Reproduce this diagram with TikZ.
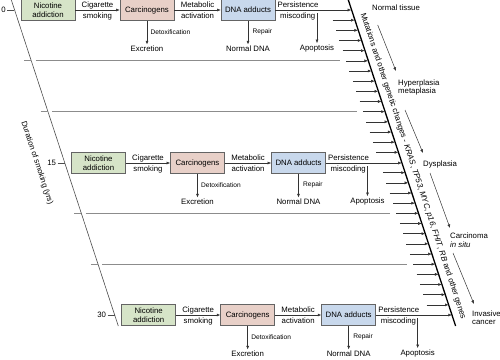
\documentclass[tikz,border=0pt]{standalone}
\usepackage{fontspec}
\setmainfont{Liberation Sans}
\usetikzlibrary{arrows.meta}
\definecolor{boxgreen}{RGB}{214,228,200}
\definecolor{boxpink}{RGB}{232,208,200}
\definecolor{boxblue}{RGB}{200,216,236}
\definecolor{boxline}{RGB}{100,100,100}
\begin{document}
\begin{tikzpicture}[x=1pt,y=-1pt,
  font=\fontsize{7.8}{9}\selectfont,
  box/.style={draw=boxline, line width=0.6pt, minimum width=54pt, minimum height=21pt, inner sep=0pt, align=center},
  arr/.style={-{Latex[length=3.6pt,width=3pt]}, line width=0.5pt, draw=black!80},
  smalltxt/.style={font=\fontsize{6.6}{7.5}\selectfont, inner sep=0pt},
  lbl/.style={inner sep=0pt},
  grayline/.style={draw=black!45, line width=0.7pt},
  axisline/.style={draw=black!70, line width=0.6pt},
  genline/.style={draw=black, line width=1.3pt},
]
\useasboundingbox (0,0) rectangle (500,359);

% slanted axis lines
\coordinate (L0) at (11,-1);
\coordinate (L1) at (118.3,326);
\draw[axisline] (L0) -- (L1);
\coordinate (R0) at (348,-1);
\coordinate (R1) at (455.6,326);
\draw[genline] (R0) -- (R1);

% duration label
\node[lbl, rotate=-71.74] (dur) at (37,163) {Duration of smoking (yrs)};

% gene label
\node[lbl, rotate=-71.74, font=\fontsize{8}{9}\selectfont] (genes) at (413,166) {Mutations and other genetic changes - \textit{KRAS}, \textit{TP53}, \textit{MYC}, \textit{p16}, \textit{FHIT}, \textit{RB} and other genes};

% ticks
\foreach \t/\y in {0/10, 15/163, 30/315}{
  \pgfmathsetmacro\xs{11+0.329*\y}
  \coordinate (tk\t a) at ({\xs-7},\y);
  \coordinate (tk\t b) at (\xs,\y);
  \draw[axisline] (tk\t a) -- (tk\t b);
  \node[lbl, anchor=east] (tl\t) at ({\xs-8.5},\y) {\t};
}

% short arrows into the gene line
\foreach \i in {1,...,29}{
  \ifnum\i=15\relax\else
    \pgfmathsetmacro\yy{10+\i*305/30}
    \pgfmathsetmacro\xl{348+0.33*\yy}
    \coordinate (s\i) at ({\xl-22},\yy);
    \coordinate (t\i) at (\xl,\yy);
    \draw[arr] (s\i) -- (t\i);
  \fi
}

% long gray separators
\foreach \i in {5,10,20,25}{
  \pgfmathsetmacro\yy{10+\i*305/30}
  \pgfmathsetmacro\xl{348+0.33*\yy}
  \pgfmathsetmacro\xs{11+0.329*\yy}
  \coordinate (ga\i) at ({\xs-7},\yy);
  \coordinate (gb\i) at (\xs,\yy);
  \coordinate (gc\i) at ({\xs+4.5},\yy);
  \coordinate (gd\i) at ({\xl-28},\yy);
  \draw[grayline] (ga\i) -- (gb\i);
  \draw[grayline] (gc\i) -- (gd\i);
}

% the three rows
\foreach \r/\y in {1/10, 2/163, 3/315}{
  \pgfmathsetmacro\dx{0.33*(\y-10)}
  \node[box, fill=boxgreen] (nic\r) at ({48+\dx},\y) {Nicotine\\addiction};
  \node[box, fill=boxpink] (carc\r) at ({147+\dx},\y) {Carcinogens};
  \node[box, fill=boxblue] (dna\r) at ({248+\dx},\y) {DNA adducts};
  \coordinate (end\r) at ({348+0.33*\y},\y);
  \draw[arr] (nic\r.east) -- (carc\r.west);
  \draw[arr] (carc\r.east) -- (dna\r.west);
  \draw[arr] (dna\r.east) -- (end\r);
  \node[lbl, anchor=base] (cig\r) at ({97.5+\dx},{\y-2.5}) {Cigarette};
  \node[lbl, anchor=base] (smk\r) at ({97.5+\dx},{\y+8.3}) {smoking};
  \node[lbl, anchor=base] (met\r) at ({197.5+\dx},{\y-2.5}) {Metabolic};
  \node[lbl, anchor=base] (act\r) at ({197.5+\dx},{\y+8.3}) {activation};
  \node[lbl, anchor=base west] (per\r) at ({277.5+\dx},{\y-2.5}) {Persistence};
  \node[lbl, anchor=base west] (mis\r) at ({280+\dx},{\y+8.3}) {miscoding};
  % down branches
  \node[inner sep=1.5pt] (exc\r) at ({147+\dx},{\y+39}) {Excretion};
  \draw[arr] (carc\r.south) -- (exc\r.north);
  \node[smalltxt, anchor=west] (det\r) at ({150.5+\dx},{\y+22}) {Detoxification};
  \node[inner sep=1.5pt] (ndna\r) at ({248+\dx},{\y+39}) {Normal DNA};
  \draw[arr] (dna\r.south) -- (ndna\r.north);
  \node[smalltxt, anchor=west] (rep\r) at ({252.5+\dx},{\y+22}) {Repair};
  \node[inner sep=1.5pt] (apo\r) at ({317+\dx},{\y+38.5}) {Apoptosis};
  \coordinate (ap\r) at ({317+\dx},{\y+3});
  \draw[arr] (ap\r) -- (apo\r.north);
}

% stages of progression
\node[lbl, anchor=base west] (st1) at (372,10.7) {Normal tissue};
\node[lbl, anchor=base west] (st2a) at (398,85) {Hyperplasia};
\node[lbl, anchor=base west] (st2b) at (398,93.5) {metaplasia};
\node[lbl, anchor=base west] (st3) at (423,166) {Dysplasia};
\node[lbl, anchor=base west] (st4a) at (450,238.5) {Carcinoma};
\node[lbl, anchor=base west] (st4b) at (450,247) {\textit{in situ}};
\node[lbl, anchor=base west] (st5a) at (472,316) {Invasive};
\node[lbl, anchor=base west] (st5b) at (472,324.5) {cancer};

\coordinate (p1a) at (377.7,25);
\coordinate (p1b) at (396,71);
\coordinate (p2a) at (405,110);
\coordinate (p2b) at (423,153);
\coordinate (p3a) at (430,173);
\coordinate (p3b) at (450,228);
\coordinate (p4a) at (453,253);
\coordinate (p4b) at (474,304);
\draw[arr] (p1a) -- (p1b);
\draw[arr] (p2a) -- (p2b);
\draw[arr] (p3a) -- (p3b);
\draw[arr] (p4a) -- (p4b);
\end{tikzpicture}
\end{document}
